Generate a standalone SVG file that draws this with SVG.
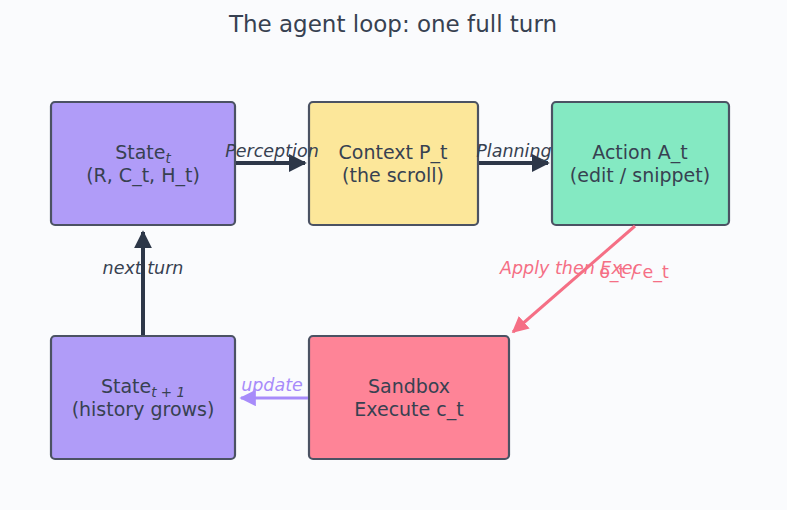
<svg xmlns="http://www.w3.org/2000/svg" width="787" height="510" viewBox="0 0 787 510">
<defs>
<style>
text{font-family:"DejaVu Sans",sans-serif;}
.box{stroke:#4b5263;stroke-width:2.2;}
.lbl{font-size:19px;fill:#374151;text-anchor:middle;}
.el{font-size:17.5px;font-style:italic;text-anchor:middle;}
.dk{stroke:#2d3748;stroke-width:4;fill:none;}
</style>
<marker id="ad" viewBox="0 0 10 10" refX="9" refY="5" markerWidth="4.5" markerHeight="4.5" orient="auto" markerUnits="strokeWidth"><path d="M0,0 L10,5 L0,10 z" fill="#2d3748"/></marker>
<marker id="ar" viewBox="0 0 10 10" refX="9" refY="5" markerWidth="5.5" markerHeight="5.5" orient="auto" markerUnits="strokeWidth"><path d="M0,0 L10,5 L0,10 z" fill="#f56f85"/></marker>
<marker id="ap" viewBox="0 0 10 10" refX="9" refY="5" markerWidth="5.5" markerHeight="5.5" orient="auto" markerUnits="strokeWidth"><path d="M0,0 L10,5 L0,10 z" fill="#a78bfa"/></marker>
</defs>
<rect width="787" height="510" fill="#fafbfd"/>
<text x="393" y="32" font-size="23" fill="#374151" text-anchor="middle">The agent loop: one full turn</text>
<g id="state_t">
<rect class="box" x="51" y="102" width="184" height="123" rx="4" fill="#b09cf8"/>
<text class="lbl" x="143" y="159">State<tspan font-size="13.5" font-style="italic" dy="4">t</tspan></text>
<text class="lbl" x="143" y="182">(R, C_t, H_t)</text>
</g>
<g id="context">
<rect class="box" x="309" y="102" width="169" height="123" rx="4" fill="#fce79a"/>
<text class="lbl" x="393" y="159">Context P_t</text>
<text class="lbl" x="393" y="182">(the scroll)</text>
</g>
<g id="action">
<rect class="box" x="552" y="102" width="177" height="123" rx="4" fill="#84e9c2"/>
<text class="lbl" x="640" y="159">Action A_t</text>
<text class="lbl" x="640" y="182">(edit / snippet)</text>
</g>
<g id="state_t1">
<rect class="box" x="51" y="336" width="184" height="123" rx="4" fill="#b09cf8"/>
<text class="lbl" x="143" y="393">State<tspan font-size="13.5" font-style="italic" dy="4">t + 1</tspan></text>
<text class="lbl" x="143" y="416">(history grows)</text>
</g>
<g id="sandbox">
<rect class="box" x="309" y="336" width="200" height="123" rx="4" fill="#fe8497"/>
<text class="lbl" x="409" y="393" fill="#5b1a28">Sandbox</text>
<text class="lbl" x="409" y="416" fill="#5b1a28">Execute c_t</text>
</g>
<g id="connectors">
<line class="dk" x1="236" y1="163" x2="305" y2="163" marker-end="url(#ad)"/>
<text class="el" x="272" y="157" fill="#374151">Perception</text>
<line class="dk" x1="479" y1="163" x2="548" y2="163" marker-end="url(#ad)"/>
<text class="el" x="514" y="157" fill="#374151">Planning</text>
<line x1="635" y1="226" x2="513" y2="332" stroke="#f56f85" stroke-width="3" marker-end="url(#ar)"/>
<text x="500" y="274" font-size="17.5" font-style="italic" fill="#f56f85">Apply then Exec</text>
<text x="634" y="278" font-size="17.5" fill="#f56f85" text-anchor="middle">o_t / e_t</text>
<line class="dk" x1="143" y1="335" x2="143" y2="232" marker-end="url(#ad)"/>
<text class="el" x="143" y="274" fill="#374151">next turn</text>
<line x1="308" y1="398" x2="241" y2="398" stroke="#a78bfa" stroke-width="3" marker-end="url(#ap)"/>
<text class="el" x="272" y="391" fill="#a78bfa">update</text>
</g>
</svg>
